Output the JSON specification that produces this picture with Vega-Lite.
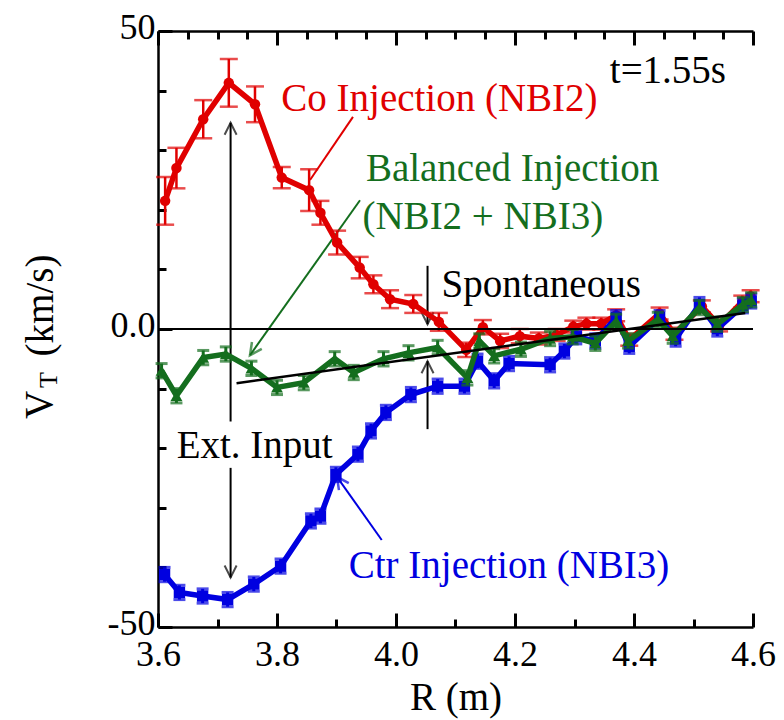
{
  "$schema": "https://vega.github.io/schema/vega-lite/v6.json",
  "width": 595,
  "height": 596,
  "autosize": {"type": "none"},
  "padding": {"left": 158, "top": 31, "right": 31, "bottom": 93},
  "background": "white",
  "config": {
    "view": {"stroke": null},
    "font": "Liberation Serif",
    "text": {"font": "Liberation Serif"},
    "axis": {"labelFont": "Liberation Serif", "titleFont": "Liberation Serif"},
    "legend": {"disable": true}
  },
  "datasets": {
    "series": [
      {"s": "co", "R": 3.612, "V": 21.5, "lo": 17.5, "hi": 25.5},
      {"s": "co", "R": 3.631, "V": 27.0, "lo": 23.6, "hi": 30.4},
      {"s": "co", "R": 3.676, "V": 35.2, "lo": 32.0, "hi": 38.4},
      {"s": "co", "R": 3.719, "V": 41.3, "lo": 37.3, "hi": 45.3},
      {"s": "co", "R": 3.763, "V": 37.7, "lo": 34.7, "hi": 40.7},
      {"s": "co", "R": 3.808, "V": 25.4, "lo": 23.6, "hi": 27.2},
      {"s": "co", "R": 3.854, "V": 23.3, "lo": 19.8, "hi": 26.8},
      {"s": "co", "R": 3.873, "V": 19.5, "lo": 17.5, "hi": 21.5},
      {"s": "co", "R": 3.901, "V": 14.5, "lo": 12.5, "hi": 16.5},
      {"s": "co", "R": 3.939, "V": 10.3, "lo": 8.5, "hi": 12.1},
      {"s": "co", "R": 3.962, "V": 7.5, "lo": 6.0, "hi": 9.0},
      {"s": "co", "R": 3.990, "V": 5.0, "lo": 3.5, "hi": 6.5},
      {"s": "co", "R": 4.029, "V": 4.2, "lo": 2.7, "hi": 5.7},
      {"s": "co", "R": 4.072, "V": 1.2, "lo": -0.3, "hi": 2.7},
      {"s": "co", "R": 4.118, "V": -3.5, "lo": -4.7, "hi": -2.3},
      {"s": "co", "R": 4.146, "V": 0.3, "lo": -0.9, "hi": 1.5},
      {"s": "co", "R": 4.175, "V": -2.0, "lo": -3.2, "hi": -0.8},
      {"s": "co", "R": 4.208, "V": -1.2, "lo": -2.4, "hi": 0.0},
      {"s": "co", "R": 4.240, "V": -1.6, "lo": -2.6, "hi": -0.6},
      {"s": "co", "R": 4.270, "V": -1.0, "lo": -2.0, "hi": 0.0},
      {"s": "co", "R": 4.298, "V": 0.4, "lo": -0.6, "hi": 1.4},
      {"s": "co", "R": 4.320, "V": 0.9, "lo": -0.1, "hi": 1.9},
      {"s": "co", "R": 4.345, "V": 0.9, "lo": -0.1, "hi": 1.9},
      {"s": "co", "R": 4.370, "V": 2.3, "lo": 1.3, "hi": 3.3},
      {"s": "co", "R": 4.392, "V": -1.8, "lo": -2.8, "hi": -0.8},
      {"s": "co", "R": 4.443, "V": 2.6, "lo": 1.6, "hi": 3.6},
      {"s": "co", "R": 4.468, "V": -0.8, "lo": -1.8, "hi": 0.2},
      {"s": "co", "R": 4.514, "V": 3.8, "lo": 2.8, "hi": 4.8},
      {"s": "co", "R": 4.543, "V": 0.6, "lo": -0.4, "hi": 1.6},
      {"s": "co", "R": 4.582, "V": 4.6, "lo": 3.6, "hi": 5.6},
      {"s": "co", "R": 4.596, "V": 5.5, "lo": 4.5, "hi": 6.5},
      {"s": "bal", "R": 3.606, "V": -7.0, "lo": -8.2, "hi": -5.8},
      {"s": "bal", "R": 3.631, "V": -11.2, "lo": -12.4, "hi": -10.0},
      {"s": "bal", "R": 3.676, "V": -4.8, "lo": -6.0, "hi": -3.6},
      {"s": "bal", "R": 3.714, "V": -4.2, "lo": -5.4, "hi": -3.0},
      {"s": "bal", "R": 3.757, "V": -6.6, "lo": -7.8, "hi": -5.4},
      {"s": "bal", "R": 3.800, "V": -9.8, "lo": -11.0, "hi": -8.6},
      {"s": "bal", "R": 3.845, "V": -9.0, "lo": -10.2, "hi": -7.8},
      {"s": "bal", "R": 3.897, "V": -5.0, "lo": -6.2, "hi": -3.8},
      {"s": "bal", "R": 3.929, "V": -7.3, "lo": -8.5, "hi": -6.1},
      {"s": "bal", "R": 3.979, "V": -5.0, "lo": -6.2, "hi": -3.8},
      {"s": "bal", "R": 4.021, "V": -4.0, "lo": -5.2, "hi": -2.8},
      {"s": "bal", "R": 4.070, "V": -3.1, "lo": -4.3, "hi": -1.9},
      {"s": "bal", "R": 4.120, "V": -8.2, "lo": -9.4, "hi": -7.0},
      {"s": "bal", "R": 4.140, "V": -2.0, "lo": -3.2, "hi": -0.8},
      {"s": "bal", "R": 4.165, "V": -4.5, "lo": -5.7, "hi": -3.3},
      {"s": "bal", "R": 4.210, "V": -3.4, "lo": -4.6, "hi": -2.2},
      {"s": "bal", "R": 4.259, "V": -1.6, "lo": -2.8, "hi": -0.4},
      {"s": "bal", "R": 4.297, "V": -1.3, "lo": -2.5, "hi": -0.1},
      {"s": "bal", "R": 4.335, "V": -2.4, "lo": -3.6, "hi": -1.2},
      {"s": "bal", "R": 4.370, "V": 1.3, "lo": 0.1, "hi": 2.5},
      {"s": "bal", "R": 4.390, "V": -2.0, "lo": -3.2, "hi": -0.8},
      {"s": "bal", "R": 4.440, "V": 1.6, "lo": 0.4, "hi": 2.8},
      {"s": "bal", "R": 4.465, "V": -1.2, "lo": -2.4, "hi": 0.0},
      {"s": "bal", "R": 4.510, "V": 3.6, "lo": 2.4, "hi": 4.8},
      {"s": "bal", "R": 4.540, "V": 0.8, "lo": -0.4, "hi": 2.0},
      {"s": "bal", "R": 4.583, "V": 4.1, "lo": 2.9, "hi": 5.3},
      {"s": "bal", "R": 4.597, "V": 4.9, "lo": 3.7, "hi": 6.1},
      {"s": "ctr", "R": 3.611, "V": -41.2, "lo": -42.4, "hi": -40.0},
      {"s": "ctr", "R": 3.636, "V": -44.2, "lo": -45.4, "hi": -43.0},
      {"s": "ctr", "R": 3.675, "V": -44.8, "lo": -46.0, "hi": -43.6},
      {"s": "ctr", "R": 3.717, "V": -45.4, "lo": -46.6, "hi": -44.2},
      {"s": "ctr", "R": 3.761, "V": -42.8, "lo": -44.0, "hi": -41.6},
      {"s": "ctr", "R": 3.806, "V": -39.8, "lo": -41.0, "hi": -38.6},
      {"s": "ctr", "R": 3.857, "V": -32.2, "lo": -33.4, "hi": -31.0},
      {"s": "ctr", "R": 3.873, "V": -31.4, "lo": -32.6, "hi": -30.2},
      {"s": "ctr", "R": 3.899, "V": -24.4, "lo": -25.6, "hi": -23.2},
      {"s": "ctr", "R": 3.936, "V": -21.0, "lo": -22.2, "hi": -19.8},
      {"s": "ctr", "R": 3.958, "V": -17.1, "lo": -18.3, "hi": -15.9},
      {"s": "ctr", "R": 3.983, "V": -14.0, "lo": -15.2, "hi": -12.8},
      {"s": "ctr", "R": 4.025, "V": -11.0, "lo": -12.2, "hi": -9.8},
      {"s": "ctr", "R": 4.070, "V": -9.6, "lo": -10.8, "hi": -8.4},
      {"s": "ctr", "R": 4.115, "V": -9.6, "lo": -10.8, "hi": -8.4},
      {"s": "ctr", "R": 4.137, "V": -5.4, "lo": -6.6, "hi": -4.2},
      {"s": "ctr", "R": 4.165, "V": -8.7, "lo": -9.9, "hi": -7.5},
      {"s": "ctr", "R": 4.190, "V": -5.8, "lo": -7.0, "hi": -4.6},
      {"s": "ctr", "R": 4.259, "V": -6.0, "lo": -7.2, "hi": -4.8},
      {"s": "ctr", "R": 4.283, "V": -3.7, "lo": -4.9, "hi": -2.5},
      {"s": "ctr", "R": 4.303, "V": -1.3, "lo": -2.5, "hi": -0.1},
      {"s": "ctr", "R": 4.335, "V": -2.0, "lo": -3.2, "hi": -0.8},
      {"s": "ctr", "R": 4.370, "V": 1.9, "lo": 0.7, "hi": 3.1},
      {"s": "ctr", "R": 4.392, "V": -2.9, "lo": -4.1, "hi": -1.7},
      {"s": "ctr", "R": 4.443, "V": 1.9, "lo": 0.7, "hi": 3.1},
      {"s": "ctr", "R": 4.470, "V": -1.7, "lo": -2.9, "hi": -0.5},
      {"s": "ctr", "R": 4.510, "V": 4.1, "lo": 2.9, "hi": 5.3},
      {"s": "ctr", "R": 4.540, "V": 0.0, "lo": -1.2, "hi": 1.2},
      {"s": "ctr", "R": 4.583, "V": 3.9, "lo": 2.7, "hi": 5.1},
      {"s": "ctr", "R": 4.597, "V": 4.7, "lo": 3.5, "hi": 5.9}
    ],
    "pointers": [
      {"id": "r", "s": "co", "R": 3.9277, "V": 35.6},
      {"id": "r", "s": "co", "R": 3.8555, "V": 25.0},
      {"id": "g", "s": "bal", "R": 3.9395, "V": 21.6},
      {"id": "g", "s": "bal", "R": 3.7546, "V": -4.4},
      {"id": "b", "s": "ctr", "R": 3.976, "V": -35.4},
      {"id": "b", "s": "ctr", "R": 3.9008, "V": -24.8}
    ],
    "arrows": [
      {"R": 3.722, "V": 34.6, "V2": -15.5},
      {"R": 3.722, "V": -23.3, "V2": -41.7},
      {"R": 4.053, "V": 10.6, "V2": 0.8},
      {"R": 4.053, "V": -5.4, "V2": -16.8}
    ],
    "headsUp": [
      {"R": 3.722, "V": 34.6},
      {"R": 4.053, "V": -5.4}
    ],
    "headsDown": [
      {"R": 3.722, "V": -41.7},
      {"R": 4.053, "V": 0.8}
    ],
    "headGreen": [{"R": 3.7546, "V": -4.4, "s": "bal"}],
    "headBlue": [{"R": 3.9008, "V": -24.8, "s": "ctr"}],
    "notes": [
      {"label": "Co Injection (NBI2)", "s": "co", "R": 4.073, "V": 36.6},
      {"label": "Balanced Injection", "s": "bal", "R": 4.196, "V": 24.8},
      {"label": "(NBI2 + NBI3)", "s": "bal", "R": 4.146, "V": 16.8},
      {"label": "Spontaneous", "s": "k", "R": 4.244, "V": 5.4},
      {"label": "t=1.55s", "s": "k", "R": 4.457, "V": 41.3},
      {"label": "Ext. Input", "s": "k", "R": 3.7625, "V": -21.6},
      {"label": "Ctr Injection (NBI3)", "s": "ctr", "R": 4.19, "V": -41.7}
    ],
    "ytitleMain": [{"label": "V", "R": 3.4017, "V": -12.75}],
    "ytitleSub": [{"label": "T", "R": 3.4168, "V": -8.56}],
    "spont": [
      {"R": 3.732, "V": -9.1},
      {"R": 4.587, "V": 2.7}
    ]
  },
  "layer": [
    {
      "layer": [
        {
          "data": {"name": "pointers"},
          "mark": {"type": "line", "strokeWidth": 2},
          "encoding": {
            "x": {
              "field": "R", "type": "quantitative", "title": "R (m)",
              "scale": {"domain": [3.6, 4.6], "nice": false, "zero": false},
              "axis": {
                "orient": "bottom",
                "values": [3.6, 3.65, 3.7, 3.75, 3.8, 3.85, 3.9, 3.95, 4.0, 4.05, 4.1, 4.15, 4.2, 4.25, 4.3, 4.35, 4.4, 4.45, 4.5, 4.55, 4.6],
                "title": "R (m)",
                "titleFont": "Liberation Serif", "titleFontSize": 39, "titleFontWeight": "normal", "titleColor": "black",
                "titleBaseline": "alphabetic", "titleY": 82,
                "labelExpr": "abs(datum.value*5-round(datum.value*5))<0.001 ? format(datum.value,'.1f') : ''",
                "labelFont": "Liberation Serif", "labelFontSize": 36, "labelColor": "black", "labelPadding": 24, "labelBaseline": "top",
                "labelFlush": false, "labelOverlap": false, "labelBound": false,
                "tickSize": {"condition": {"test": "abs(datum.value*5-round(datum.value*5))<0.001", "value": -14}, "value": -8},
                "tickWidth": 3, "tickColor": "black", "domainColor": "black", "domainWidth": 2.5, "grid": false
              }
            },
            "y": {
              "field": "V", "type": "quantitative", "title": "(km/s)",
              "scale": {"domain": [-50, 50], "nice": false, "zero": false},
              "axis": {
                "orient": "left",
                "values": [-50, -45, -40, -35, -30, -25, -20, -15, -10, -5, 0, 5, 10, 15, 20, 25, 30, 35, 40, 45, 50],
                "title": "(km/s)",
                "titleFont": "Liberation Serif", "titleFontSize": 39, "titleFontWeight": "normal", "titleColor": "black",
                "titleAngle": 270, "titleAlign": "center", "titleBaseline": "middle",
                "titleX": -118, "titleY": 274,
                "labelExpr": "datum.value==50 ? '50' : datum.value==-50 ? '-50' : datum.value==0 ? '0.0' : ''",
                "labelFont": "Liberation Serif", "labelFontSize": 36, "labelColor": "black", "labelPadding": 17, "labelBaseline": "middle",
                "labelOffset": -4,
                "labelFlush": false, "labelOverlap": false, "labelBound": false,
                "tickSize": {"condition": {"test": "datum.value==0 || abs(datum.value)==50", "value": -14}, "value": -8},
                "tickWidth": 3, "tickColor": "black", "domainColor": "black", "domainWidth": 2.5, "grid": false
              }
            },
            "detail": {"field": "id"},
            "color": {
              "field": "s", "type": "nominal",
              "scale": {"domain": ["co", "bal", "ctr", "k"], "range": ["#e00000", "#146e1e", "#0000e0", "#000000"]},
              "legend": null
            }
          }
        },
        {
          "data": {"name": "arrows"},
          "mark": {"type": "rule", "color": "black", "strokeWidth": 2},
          "encoding": {
            "x": {"field": "R", "type": "quantitative", "title": "R (m)"},
            "y": {"field": "V", "type": "quantitative", "title": "(km/s)"},
            "y2": {"field": "V2"}
          }
        },
        {
          "data": {"name": "headsUp"},
          "mark": {"type": "point", "shape": "M-0.5,1L0,0L0.5,1", "size": 576, "filled": false, "color": "black", "strokeWidth": 2},
          "encoding": {
            "x": {"field": "R", "type": "quantitative", "title": "R (m)"},
            "y": {"field": "V", "type": "quantitative", "title": "(km/s)"}
          }
        },
        {
          "data": {"name": "headsDown"},
          "mark": {"type": "point", "shape": "M-0.5,-1L0,0L0.5,-1", "size": 576, "filled": false, "color": "black", "strokeWidth": 2},
          "encoding": {
            "x": {"field": "R", "type": "quantitative", "title": "R (m)"},
            "y": {"field": "V", "type": "quantitative", "title": "(km/s)"}
          }
        },
        {
          "data": {"name": "headGreen"},
          "mark": {"type": "point", "shape": "M-0.5,-1L0,0L0.5,-1", "size": 576, "filled": false, "strokeWidth": 2.5, "angle": 35},
          "encoding": {
            "x": {"field": "R", "type": "quantitative", "title": "R (m)"},
            "y": {"field": "V", "type": "quantitative", "title": "(km/s)"},
            "color": {"field": "s", "type": "nominal", "legend": null}
          }
        },
        {
          "data": {"name": "headBlue"},
          "mark": {"type": "point", "shape": "M-0.5,-1L0,0L0.5,-1", "size": 576, "filled": false, "strokeWidth": 2.5, "angle": 145},
          "encoding": {
            "x": {"field": "R", "type": "quantitative", "title": "R (m)"},
            "y": {"field": "V", "type": "quantitative", "title": "(km/s)"},
            "color": {"field": "s", "type": "nominal", "legend": null}
          }
        },
        {
          "data": {"name": "series"},
          "transform": [{"filter": "datum.s == 'co'"}],
          "layer": [
            {
              "mark": {"type": "errorbar", "ticks": {"size": 18, "thickness": 2.5}, "rule": {"strokeWidth": 2.5}},
              "encoding": {
                "x": {"field": "R", "type": "quantitative", "title": "R (m)"},
                "y": {"field": "lo", "type": "quantitative", "title": "(km/s)"},
                "y2": {"field": "hi"},
                "color": {"field": "s", "type": "nominal", "legend": null}
              }
            },
            {
              "mark": {"type": "line", "strokeWidth": 5.5},
              "encoding": {
                "x": {"field": "R", "type": "quantitative", "title": "R (m)"},
                "y": {"field": "V", "type": "quantitative", "title": "(km/s)"},
                "color": {"field": "s", "type": "nominal", "legend": null}
              }
            },
            {
              "mark": {"type": "point", "shape": "circle", "filled": true, "opacity": 1, "size": 110},
              "encoding": {
                "x": {"field": "R", "type": "quantitative", "title": "R (m)"},
                "y": {"field": "V", "type": "quantitative", "title": "(km/s)"},
                "color": {"field": "s", "type": "nominal", "legend": null}
              }
            }
          ]
        },
        {
          "data": {"name": "series"},
          "transform": [{"filter": "datum.s == 'ctr'"}],
          "layer": [
            {
              "mark": {"type": "errorbar", "ticks": {"size": 12, "thickness": 3}, "rule": {"strokeWidth": 3}},
              "encoding": {
                "x": {"field": "R", "type": "quantitative", "title": "R (m)"},
                "y": {"field": "lo", "type": "quantitative", "title": "(km/s)"},
                "y2": {"field": "hi"},
                "color": {"field": "s", "type": "nominal", "legend": null}
              }
            },
            {
              "mark": {"type": "line", "strokeWidth": 5.5},
              "encoding": {
                "x": {"field": "R", "type": "quantitative", "title": "R (m)"},
                "y": {"field": "V", "type": "quantitative", "title": "(km/s)"},
                "color": {"field": "s", "type": "nominal", "legend": null}
              }
            },
            {
              "mark": {"type": "point", "shape": "square", "filled": true, "opacity": 1, "size": 130},
              "encoding": {
                "x": {"field": "R", "type": "quantitative", "title": "R (m)"},
                "y": {"field": "V", "type": "quantitative", "title": "(km/s)"},
                "color": {"field": "s", "type": "nominal", "legend": null}
              }
            }
          ]
        },
        {
          "data": {"name": "series"},
          "transform": [{"filter": "datum.s == 'bal'"}],
          "layer": [
            {
              "mark": {"type": "errorbar", "ticks": {"size": 12, "thickness": 3}, "rule": {"strokeWidth": 3}},
              "encoding": {
                "x": {"field": "R", "type": "quantitative", "title": "R (m)"},
                "y": {"field": "lo", "type": "quantitative", "title": "(km/s)"},
                "y2": {"field": "hi"},
                "color": {"field": "s", "type": "nominal", "legend": null}
              }
            },
            {
              "mark": {"type": "line", "strokeWidth": 5.5},
              "encoding": {
                "x": {"field": "R", "type": "quantitative", "title": "R (m)"},
                "y": {"field": "V", "type": "quantitative", "title": "(km/s)"},
                "color": {"field": "s", "type": "nominal", "legend": null}
              }
            },
            {
              "mark": {"type": "point", "shape": "triangle-up", "filled": true, "opacity": 1, "size": 140},
              "encoding": {
                "x": {"field": "R", "type": "quantitative", "title": "R (m)"},
                "y": {"field": "V", "type": "quantitative", "title": "(km/s)"},
                "color": {"field": "s", "type": "nominal", "legend": null}
              }
            }
          ]
        },
        {
          "data": {"name": "notes"},
          "mark": {"type": "text", "font": "Liberation Serif", "fontSize": 39, "align": "center", "baseline": "alphabetic"},
          "encoding": {
            "x": {"field": "R", "type": "quantitative", "title": "R (m)"},
            "y": {"field": "V", "type": "quantitative", "title": "(km/s)"},
            "text": {"field": "label"},
            "color": {"field": "s", "type": "nominal", "legend": null}
          }
        },
        {
          "data": {"name": "ytitleMain"},
          "mark": {"type": "text", "font": "Liberation Serif", "fontSize": 39, "align": "center", "baseline": "middle", "angle": 270, "color": "black"},
          "encoding": {
            "x": {"field": "R", "type": "quantitative", "title": "R (m)"},
            "y": {"field": "V", "type": "quantitative", "title": "(km/s)"},
            "text": {"field": "label"}
          }
        },
        {
          "data": {"name": "ytitleSub"},
          "mark": {"type": "text", "font": "Liberation Serif", "fontSize": 26, "align": "center", "baseline": "middle", "angle": 270, "color": "black"},
          "encoding": {
            "x": {"field": "R", "type": "quantitative", "title": "R (m)"},
            "y": {"field": "V", "type": "quantitative", "title": "(km/s)"},
            "text": {"field": "label"}
          }
        }
      ]
    },
    {
      "layer": [
        {
          "data": {"name": "spont"},
          "mark": {"type": "line", "color": "black", "strokeWidth": 2.5},
          "encoding": {
            "x": {
              "field": "R", "type": "quantitative",
              "axis": {
                "orient": "top",
                "values": [3.6, 3.65, 3.7, 3.75, 3.8, 3.85, 3.9, 3.95, 4.0, 4.05, 4.1, 4.15, 4.2, 4.25, 4.3, 4.35, 4.4, 4.45, 4.5, 4.55, 4.6],
                "labels": false, "title": null,
                "tickSize": {"condition": {"test": "abs(datum.value*5-round(datum.value*5))<0.001", "value": -14}, "value": -8},
                "tickWidth": 3, "tickColor": "black", "domainColor": "black", "domainWidth": 2.5, "grid": false
              }
            },
            "y": {
              "field": "V", "type": "quantitative",
              "axis": {
                "orient": "right",
                "values": [-50, -45, -40, -35, -30, -25, -20, -15, -10, -5, 0, 5, 10, 15, 20, 25, 30, 35, 40, 45, 50],
                "labels": false, "title": null,
                "tickSize": {"condition": {"test": "datum.value==0 || abs(datum.value)==50", "value": -14}, "value": -8},
                "tickWidth": 3, "tickColor": "black", "domainColor": "black", "domainWidth": 2.5, "grid": false
              }
            }
          }
        },
        {
          "data": {"values": [{}]},
          "mark": {"type": "rule", "color": "black", "strokeWidth": 2},
          "encoding": {
            "y": {"datum": 0, "type": "quantitative", "axis": null}
          }
        }
      ]
    }
  ],
  "resolve": {"axis": {"x": "independent", "y": "independent"}}
}
